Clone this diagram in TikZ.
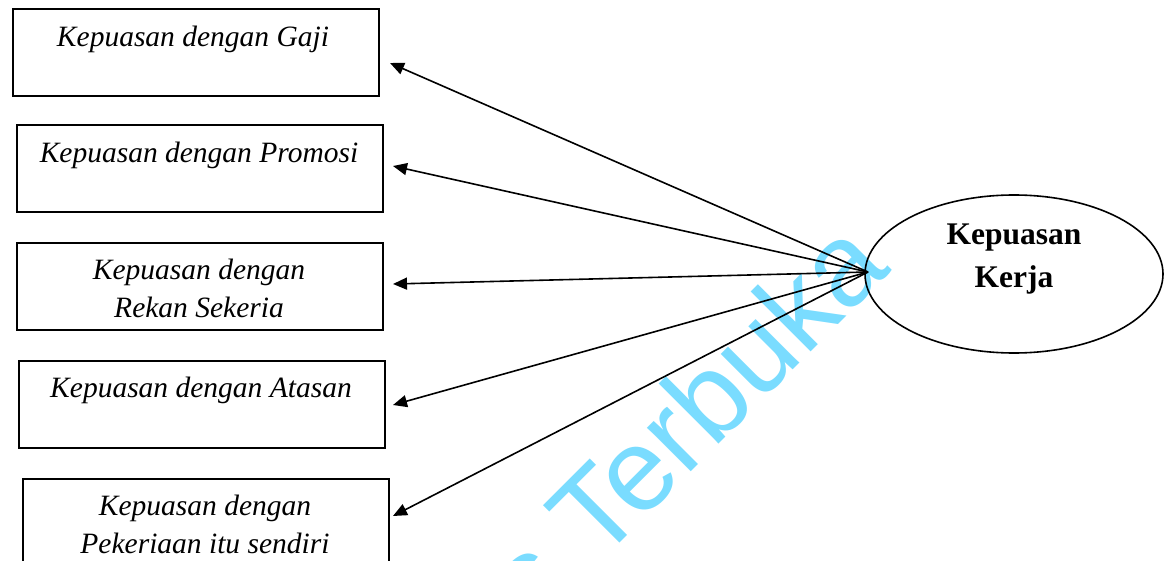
\documentclass[tikz,border=0pt]{standalone}
\usepackage{fontspec}
\setmainfont{Liberation Serif}
\newfontfamily\wmfont{Liberation Sans}
\usetikzlibrary{arrows.meta,calc,shapes.geometric}
\definecolor{wmcyan}{RGB}{122,220,255}
\tikzset{
  boxnode/.style={draw=black, line width=1.8pt, minimum width=366pt, minimum height=87pt, inner sep=0pt, anchor=north west},
  lbl/.style={font=\itshape\fontsize{29.5}{38}\selectfont, inner sep=0pt, anchor=base},
  boldlbl/.style={font=\bfseries\fontsize{31.5}{43}\selectfont, inner sep=0pt, anchor=base},
  arr/.style={line width=1.6pt, -{Triangle[length=14pt,width=12pt]}},
  latent/.style={draw=black, line width=1.6pt, ellipse, minimum width=298pt, minimum height=158pt, inner sep=0pt}
}
\begin{document}
\begin{tikzpicture}[x=1pt,y=-1pt]
\useasboundingbox (0,0) rectangle (1165,561);
\clip (0,0) rectangle (1165,561);
% watermark
\node[rotate=45, anchor=base east, text=wmcyan, font=\wmfont\fontsize{117}{117}\selectfont, inner sep=0pt] (wm) at (893,270) {Universitas Terbuka};
% boxes
\node[boxnode] (b1) at (12,8) {};
\node[boxnode] (b2) at (16,124) {};
\node[boxnode] (b3) at (16,242) {};
\node[boxnode] (b4) at (18,360) {};
\node[boxnode] (b5) at (22,478) {};
% labels
\node[lbl] (t1) at (193,47) {Kepuasan dengan Gaji};
\node[lbl] (t2) at (199,163) {Kepuasan dengan Promosi};
\node[lbl] (t3a) at (199,280) {Kepuasan dengan};
\node[lbl] (t3b) at (199,318) {Rekan Sekeria};
\node[lbl] (t4) at (201,397) {Kepuasan dengan Atasan};
\node[lbl] (t5a) at (205,515) {Kepuasan dengan};
\node[lbl] (t5b) at (205,553) {Pekeriaan itu sendiri};
% latent
\node[latent] (e) at (1014,274) {};
\node[boldlbl] (k1) at (1014,245) {Kepuasan};
\node[boldlbl] (k2) at (1014,288) {Kerja};
% arrow ends
\coordinate (a1) at (390,63);
\coordinate (a2) at (393,166);
\coordinate (a3) at (393,284);
\coordinate (a4) at (393,405);
\coordinate (a5) at (393,516);
\coordinate (k) at (868,272);
\draw[arr] (k) -- (a1);
\draw[arr] (k) -- (a2);
\draw[arr] (k) -- (a3);
\draw[arr] (k) -- (a4);
\draw[arr] (k) -- (a5);
\end{tikzpicture}
\end{document}
